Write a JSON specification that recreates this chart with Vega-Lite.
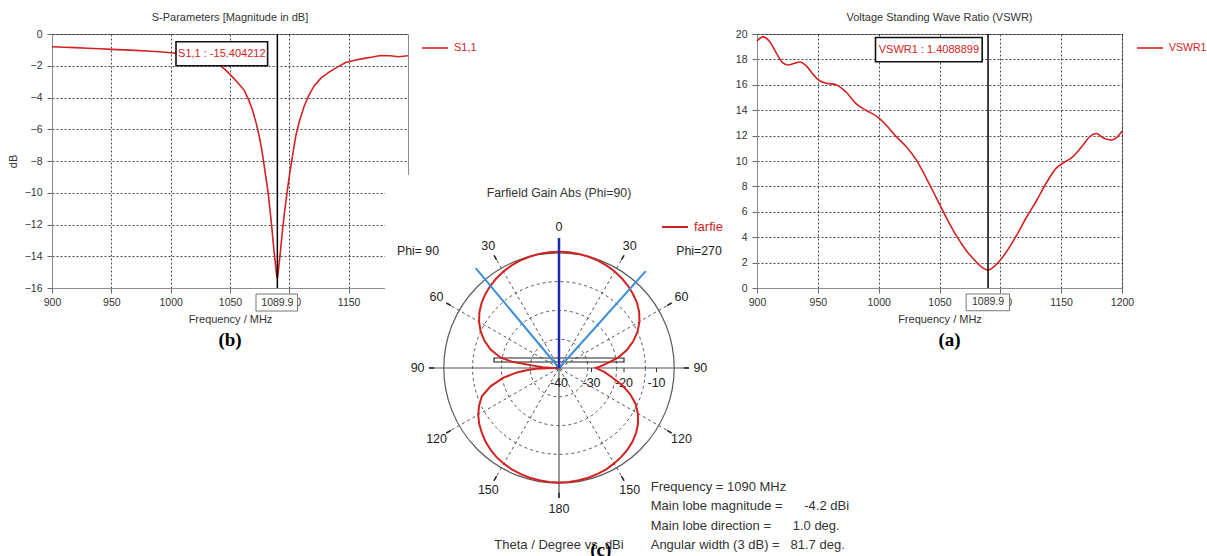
{
  "$schema": "https://vega.github.io/schema/vega-lite/v6.json",
  "background": "white",
  "padding": {"left": 6, "top": 11, "right": 0, "bottom": 0},
  "bounds": "flush",
  "spacing": 0,
  "config": {
    "font": "Liberation Sans",
    "view": {"stroke": "#8c8c8c", "strokeWidth": 1},
    "axis": {"labelFontSize": 10.5, "labelColor": "#333333", "titleFontSize": 11, "titleFontWeight": "normal", "titleColor": "#333333", "domainColor": "#8c8c8c", "tickColor": "#666666", "tickSize": 5, "gridColor": "#000000", "gridDash": [2, 2], "gridOpacity": 0.7, "labelPadding": 4, "labelFlush": false, "labelOverlap": false},
    "title": {"fontSize": 11, "fontWeight": "normal", "color": "#333333", "offset": 6, "anchor": "middle"},
    "legend": {"symbolType": "stroke", "symbolSize": 676, "symbolStrokeWidth": 1.6, "labelFontSize": 11, "labelColor": "#d42222", "padding": 0, "labelOffset": 5}
  },
  "datasets": {
    "panel": [{"id": 1}],
    "s11": [
      {"freq": 900, "dB": -0.8}, {"freq": 910, "dB": -0.83}, {"freq": 920, "dB": -0.86}, {"freq": 930, "dB": -0.9}, {"freq": 940, "dB": -0.93},
      {"freq": 950, "dB": -0.97}, {"freq": 960, "dB": -1.0}, {"freq": 970, "dB": -1.03}, {"freq": 980, "dB": -1.07}, {"freq": 990, "dB": -1.12},
      {"freq": 1000, "dB": -1.18}, {"freq": 1010, "dB": -1.25}, {"freq": 1020, "dB": -1.35}, {"freq": 1030, "dB": -1.52}, {"freq": 1036, "dB": -1.68},
      {"freq": 1041, "dB": -1.95}, {"freq": 1046, "dB": -2.25}, {"freq": 1052, "dB": -2.7}, {"freq": 1057, "dB": -3.1}, {"freq": 1062, "dB": -3.55},
      {"freq": 1066, "dB": -4.2}, {"freq": 1069, "dB": -4.8}, {"freq": 1072, "dB": -5.6}, {"freq": 1074.5, "dB": -6.4}, {"freq": 1077, "dB": -7.4},
      {"freq": 1079, "dB": -8.4}, {"freq": 1081, "dB": -9.4}, {"freq": 1082.5, "dB": -10.25}, {"freq": 1084, "dB": -11.3}, {"freq": 1085.5, "dB": -12.4},
      {"freq": 1087, "dB": -13.6}, {"freq": 1088.3, "dB": -14.5}, {"freq": 1089.4, "dB": -15.3}, {"freq": 1089.9, "dB": -15.404212}, {"freq": 1090.6, "dB": -15.0},
      {"freq": 1091.5, "dB": -14.4}, {"freq": 1093, "dB": -13.3}, {"freq": 1094.3, "dB": -12.3}, {"freq": 1096, "dB": -11.2}, {"freq": 1097.7, "dB": -10.2},
      {"freq": 1099.5, "dB": -9.2}, {"freq": 1101.3, "dB": -8.3}, {"freq": 1103.5, "dB": -7.3}, {"freq": 1105.5, "dB": -6.4}, {"freq": 1108.5, "dB": -5.5},
      {"freq": 1112.5, "dB": -4.55}, {"freq": 1116.5, "dB": -3.85}, {"freq": 1121, "dB": -3.25}, {"freq": 1127, "dB": -2.75}, {"freq": 1133.5, "dB": -2.4},
      {"freq": 1140, "dB": -2.1}, {"freq": 1147.5, "dB": -1.8}, {"freq": 1155, "dB": -1.65}, {"freq": 1162, "dB": -1.55}, {"freq": 1170, "dB": -1.45},
      {"freq": 1177, "dB": -1.35}, {"freq": 1185, "dB": -1.37}, {"freq": 1192, "dB": -1.43}, {"freq": 1200, "dB": -1.37}
    ],
    "s11marker": [{"freq": 1089.9, "dB": -15.404212, "label": "S1,1 : -15.404212", "flabel": "1089.9"}],
    "vswr": [
      {"freq": 900, "vswr": 19.45}, {"freq": 904.8, "vswr": 19.77}, {"freq": 910, "vswr": 19.45}, {"freq": 915.8, "vswr": 18.52}, {"freq": 921, "vswr": 17.74},
      {"freq": 925.3, "vswr": 17.56}, {"freq": 930.8, "vswr": 17.69}, {"freq": 935, "vswr": 17.8}, {"freq": 940.5, "vswr": 17.49}, {"freq": 946, "vswr": 16.83},
      {"freq": 951.4, "vswr": 16.32}, {"freq": 957, "vswr": 16.13}, {"freq": 965, "vswr": 16.01}, {"freq": 973.4, "vswr": 15.41}, {"freq": 981.6, "vswr": 14.5},
      {"freq": 989.8, "vswr": 13.98}, {"freq": 999.3, "vswr": 13.46}, {"freq": 1006.3, "vswr": 12.82}, {"freq": 1014.5, "vswr": 11.91}, {"freq": 1022.7, "vswr": 11.13},
      {"freq": 1030.9, "vswr": 10.09}, {"freq": 1039.1, "vswr": 8.66}, {"freq": 1047.4, "vswr": 7.1}, {"freq": 1055.6, "vswr": 5.55}, {"freq": 1063.8, "vswr": 4.12},
      {"freq": 1072, "vswr": 2.96}, {"freq": 1080.3, "vswr": 2.05}, {"freq": 1085, "vswr": 1.62}, {"freq": 1089.9, "vswr": 1.4088899}, {"freq": 1094, "vswr": 1.62},
      {"freq": 1096.7, "vswr": 1.85}, {"freq": 1104.9, "vswr": 2.83}, {"freq": 1113.2, "vswr": 4.12}, {"freq": 1121.4, "vswr": 5.55}, {"freq": 1129.6, "vswr": 6.85},
      {"freq": 1137.8, "vswr": 8.27}, {"freq": 1146, "vswr": 9.44}, {"freq": 1151.5, "vswr": 9.83}, {"freq": 1159.7, "vswr": 10.35}, {"freq": 1168, "vswr": 11.26},
      {"freq": 1173.4, "vswr": 11.91}, {"freq": 1178.9, "vswr": 12.16}, {"freq": 1184.4, "vswr": 11.83}, {"freq": 1191.3, "vswr": 11.65}, {"freq": 1195.4, "vswr": 11.83},
      {"freq": 1200, "vswr": 12.35}
    ],
    "vswrmarker": [{"freq": 1089.9, "vswr": 1.4088899, "label": "VSWR1 : 1.4088899", "flabel": "1089.9"}],
    "pattern": [
      {"theta": -180, "gain": -4.8}, {"theta": -175, "gain": -4.82}, {"theta": -170, "gain": -4.9}, {"theta": -165, "gain": -5.05}, {"theta": -160, "gain": -5.3},
      {"theta": -155, "gain": -5.6}, {"theta": -150, "gain": -6.0}, {"theta": -145, "gain": -6.5}, {"theta": -140, "gain": -7.2}, {"theta": -135, "gain": -8.0},
      {"theta": -130, "gain": -9.0}, {"theta": -125, "gain": -10.0}, {"theta": -120, "gain": -11.3}, {"theta": -115, "gain": -12.9}, {"theta": -110, "gain": -14.8},
      {"theta": -105, "gain": -18.2}, {"theta": -100, "gain": -22.5}, {"theta": -96, "gain": -27.0}, {"theta": -94, "gain": -30.0}, {"theta": -92, "gain": -33.0},
      {"theta": -90.5, "gain": -38.0}, {"theta": -90, "gain": -40.0}, {"theta": -89.5, "gain": -38.0}, {"theta": -87.5, "gain": -35.0}, {"theta": -85, "gain": -32.5},
      {"theta": -82.5, "gain": -25.5}, {"theta": -80, "gain": -21.8}, {"theta": -75, "gain": -18.2}, {"theta": -70, "gain": -15.6}, {"theta": -65, "gain": -13.4},
      {"theta": -60, "gain": -11.6}, {"theta": -55, "gain": -10.1}, {"theta": -50, "gain": -8.9}, {"theta": -45, "gain": -7.9}, {"theta": -40, "gain": -7.1},
      {"theta": -35, "gain": -6.35}, {"theta": -30, "gain": -5.75}, {"theta": -25, "gain": -5.25}, {"theta": -20, "gain": -4.85}, {"theta": -15, "gain": -4.55},
      {"theta": -10, "gain": -4.35}, {"theta": -5, "gain": -4.25}, {"theta": 0, "gain": -4.22}, {"theta": 1, "gain": -4.2}, {"theta": 5, "gain": -4.25},
      {"theta": 10, "gain": -4.35}, {"theta": 15, "gain": -4.55}, {"theta": 20, "gain": -4.85}, {"theta": 25, "gain": -5.25}, {"theta": 30, "gain": -5.7},
      {"theta": 35, "gain": -6.3}, {"theta": 40, "gain": -7.0}, {"theta": 45, "gain": -7.8}, {"theta": 50, "gain": -8.7}, {"theta": 55, "gain": -9.9},
      {"theta": 60, "gain": -11.4}, {"theta": 65, "gain": -13.3}, {"theta": 70, "gain": -15.6}, {"theta": 75, "gain": -18.3}, {"theta": 80, "gain": -21.5},
      {"theta": 85, "gain": -25.5}, {"theta": 88, "gain": -27.5}, {"theta": 90, "gain": -28.7}, {"theta": 92, "gain": -27.8}, {"theta": 95, "gain": -26.0},
      {"theta": 100, "gain": -23.5}, {"theta": 105, "gain": -20.0}, {"theta": 110, "gain": -16.8}, {"theta": 115, "gain": -14.0}, {"theta": 120, "gain": -12.0},
      {"theta": 125, "gain": -10.3}, {"theta": 130, "gain": -9.0}, {"theta": 135, "gain": -8.0}, {"theta": 140, "gain": -7.2}, {"theta": 145, "gain": -6.6},
      {"theta": 150, "gain": -6.1}, {"theta": 155, "gain": -5.6}, {"theta": 160, "gain": -5.3}, {"theta": 165, "gain": -5.05}, {"theta": 170, "gain": -4.9},
      {"theta": 175, "gain": -4.82}, {"theta": 180, "gain": -4.8}
    ],
    "rings": [{"dB": -30}, {"dB": -20}, {"dB": -10}, {"dB": 0}],
    "ringLabels": [{"label": "-40", "r": 0}, {"label": "-30", "r": 10}, {"label": "-20", "r": 20}, {"label": "-10", "r": 30}],
    "spokes": [
      {"angle": 0, "style": "axis"}, {"angle": 90, "style": "axis"}, {"angle": 180, "style": "axis"}, {"angle": -90, "style": "axis"},
      {"angle": 30, "style": "grid"}, {"angle": 60, "style": "grid"}, {"angle": 120, "style": "grid"}, {"angle": 150, "style": "grid"},
      {"angle": -30, "style": "grid"}, {"angle": -60, "style": "grid"}, {"angle": -120, "style": "grid"}, {"angle": -150, "style": "grid"}
    ],
    "lobes": [{"kind": "3dB", "angle": -39.85}, {"kind": "3dB", "angle": 41.85}, {"kind": "main", "angle": 0}],
    "angleLabels": [
      {"angle": 0, "label": "0"}, {"angle": 30, "label": "30"}, {"angle": 60, "label": "60"}, {"angle": 90, "label": "90"}, {"angle": 120, "label": "120"},
      {"angle": 150, "label": "150"}, {"angle": 180, "label": "180"}, {"angle": -30, "label": "30"}, {"angle": -60, "label": "60"}, {"angle": -90, "label": "90"},
      {"angle": -120, "label": "120"}, {"angle": -150, "label": "150"}
    ]
  },
  "resolve": {"scale": {"x": "independent", "y": "independent", "color": "independent", "size": "independent"}, "legend": {"color": "independent"}},
  "hconcat": [
    {
      "width": 356,
      "height": 254,
      "title": "S-Parameters [Magnitude in dB]",
      "layer": [
        {
          "data": {"name": "s11"},
          "mark": {"type": "line", "strokeWidth": 1.6},
          "encoding": {
            "x": {"field": "freq", "type": "quantitative", "scale": {"domain": [900, 1200], "nice": false, "zero": false},
                  "axis": {"title": "Frequency / MHz", "values": [900, 950, 1000, 1050, 1100, 1150], "titlePadding": 6, "format": "d"}},
            "y": {"field": "dB", "type": "quantitative", "scale": {"domain": [-16, 0], "nice": false},
                  "axis": {"title": "dB", "values": [-16, -14, -12, -10, -8, -6, -4, -2, 0], "titlePadding": 6, "labelPadding": 5, "format": "d"}},
            "color": {"datum": "S1,1", "type": "nominal", "scale": {"range": ["#d42222"]}, "legend": {"title": null, "orient": "right", "offset": 13}}
          }
        },
        {
          "data": {"name": "s11marker"},
          "mark": {"type": "rule", "color": "#000000", "strokeWidth": 1.5},
          "encoding": {
            "x": {"field": "freq", "type": "quantitative", "axis": {"title": "Frequency / MHz", "values": [900, 950, 1000, 1050, 1100, 1150], "titlePadding": 6, "format": "d"}},
            "y": {"datum": 0, "type": "quantitative", "axis": {"title": "dB", "values": [-16, -14, -12, -10, -8, -6, -4, -2, 0], "titlePadding": 6, "labelPadding": 5, "format": "d"}},
            "y2": {"datum": -16}
          }
        },
        {
          "data": {"name": "s11marker"},
          "mark": {"type": "rect", "fill": "white", "stroke": "#111111", "strokeWidth": 1.6},
          "encoding": {
            "x": {"datum": 1004.5, "type": "quantitative", "axis": {"title": "Frequency / MHz", "values": [900, 950, 1000, 1050, 1100, 1150], "titlePadding": 6, "format": "d"}},
            "x2": {"datum": 1081.7},
            "y": {"datum": -0.485, "type": "quantitative", "axis": {"title": "dB", "values": [-16, -14, -12, -10, -8, -6, -4, -2, 0], "titlePadding": 6, "labelPadding": 5, "format": "d"}},
            "y2": {"datum": -2.0}
          }
        },
        {
          "data": {"name": "s11marker"},
          "mark": {"type": "text", "color": "#d42222", "fontSize": 11, "align": "center", "baseline": "middle"},
          "encoding": {
            "x": {"datum": 1043.1, "type": "quantitative", "axis": {"title": "Frequency / MHz", "values": [900, 950, 1000, 1050, 1100, 1150], "titlePadding": 6, "format": "d"}},
            "y": {"datum": -1.24, "type": "quantitative", "axis": {"title": "dB", "values": [-16, -14, -12, -10, -8, -6, -4, -2, 0], "titlePadding": 6, "labelPadding": 5, "format": "d"}},
            "text": {"field": "label"}
          }
        },
        {
          "data": {"name": "s11marker"},
          "mark": {"type": "rect", "fill": "white", "stroke": "#777777", "strokeWidth": 1},
          "encoding": {
            "x": {"datum": 1071.9, "type": "quantitative", "axis": {"title": "Frequency / MHz", "values": [900, 950, 1000, 1050, 1100, 1150], "titlePadding": 6, "format": "d"}},
            "x2": {"datum": 1106.9},
            "y": {"datum": -16.38, "type": "quantitative", "axis": {"title": "dB", "values": [-16, -14, -12, -10, -8, -6, -4, -2, 0], "titlePadding": 6, "labelPadding": 5, "format": "d"}},
            "y2": {"datum": -17.45}
          }
        },
        {
          "data": {"name": "s11marker"},
          "mark": {"type": "text", "color": "#333333", "fontSize": 10.5, "align": "center", "baseline": "middle"},
          "encoding": {
            "x": {"field": "freq", "type": "quantitative", "axis": {"title": "Frequency / MHz", "values": [900, 950, 1000, 1050, 1100, 1150], "titlePadding": 6, "format": "d"}},
            "y": {"datum": -16.92, "type": "quantitative", "axis": {"title": "dB", "values": [-16, -14, -12, -10, -8, -6, -4, -2, 0], "titlePadding": 6, "labelPadding": 5, "format": "d"}},
            "text": {"field": "flabel"}
          }
        },
        {
          "data": {"name": "panel"},
          "mark": {"type": "text", "text": "(b)", "font": "Liberation Serif", "fontWeight": "bold", "fontSize": 19, "color": "#000000", "align": "center", "baseline": "middle"},
          "encoding": {
            "x": {"datum": 1050, "type": "quantitative", "axis": {"title": "Frequency / MHz", "values": [900, 950, 1000, 1050, 1100, 1150], "titlePadding": 6, "format": "d"}},
            "y": {"datum": -19.28, "type": "quantitative", "axis": {"title": "dB", "values": [-16, -14, -12, -10, -8, -6, -4, -2, 0], "titlePadding": 6, "labelPadding": 5, "format": "d"}}
          }
        }
      ]
    },
    {
      "width": 348.5,
      "height": 518,
      "view": {"stroke": null},
      "layer": [
        {
          "data": {"name": "panel"},
          "mark": {"type": "rect", "fill": "white", "strokeWidth": 0},
          "encoding": {
            "x": {"datum": -53.54, "type": "quantitative", "scale": {"domain": [-46.46, 60.77], "nice": false, "zero": false}, "axis": null},
            "x2": {"datum": 50.46},
            "y": {"datum": 59.38, "type": "quantitative", "scale": {"domain": [-56.62, 102.77], "nice": false, "zero": false}, "axis": null},
            "y2": {"datum": -60}
          }
        },
        {
          "data": {"name": "rings"},
          "transform": [{"filter": "datum.dB < 0"}, {"calculate": "datum.dB + 40", "as": "r"}],
          "mark": {"type": "point", "shape": "circle", "filled": false, "stroke": "#555555", "strokeWidth": 1, "strokeDash": [3, 3], "opacity": 1},
          "encoding": {
            "x": {"datum": 0, "type": "quantitative", "axis": null},
            "y": {"datum": 0, "type": "quantitative", "axis": null},
            "size": {"field": "r", "type": "quantitative", "scale": {"type": "pow", "exponent": 2, "domain": [0, 40], "range": [0, 53093]}, "legend": null}
          }
        },
        {
          "data": {"name": "rings"},
          "transform": [{"filter": "datum.dB == 0"}, {"calculate": "datum.dB + 40", "as": "r"}],
          "mark": {"type": "point", "shape": "circle", "filled": false, "stroke": "#5a5a5a", "strokeWidth": 1.2, "opacity": 1},
          "encoding": {
            "x": {"datum": 0, "type": "quantitative", "axis": null},
            "y": {"datum": 0, "type": "quantitative", "axis": null},
            "size": {"field": "r", "type": "quantitative", "legend": null}
          }
        },
        {
          "data": {"name": "spokes"},
          "transform": [{"filter": "datum.style == 'grid'"}, {"calculate": "40 * sin(datum.angle * PI / 180)", "as": "ex"}, {"calculate": "40 * cos(datum.angle * PI / 180)", "as": "ey"}],
          "mark": {"type": "rule", "color": "#555555", "strokeWidth": 1, "strokeDash": [3, 3]},
          "encoding": {
            "x": {"field": "ex", "type": "quantitative", "axis": null},
            "y": {"field": "ey", "type": "quantitative", "axis": null},
            "x2": {"datum": 0},
            "y2": {"datum": 0}
          }
        },
        {
          "data": {"name": "spokes"},
          "transform": [{"filter": "datum.style == 'axis'"}, {"calculate": "40 * sin(datum.angle * PI / 180)", "as": "ex"}, {"calculate": "40 * cos(datum.angle * PI / 180)", "as": "ey"}],
          "mark": {"type": "rule", "color": "#555555", "strokeWidth": 1.2},
          "encoding": {
            "x": {"field": "ex", "type": "quantitative", "axis": null},
            "y": {"field": "ey", "type": "quantitative", "axis": null},
            "x2": {"datum": 0},
            "y2": {"datum": 0}
          }
        },
        {
          "data": {"name": "spokes"},
          "transform": [
            {"calculate": "38.4 * sin(datum.angle * PI / 180)", "as": "tx1"}, {"calculate": "38.4 * cos(datum.angle * PI / 180)", "as": "ty1"},
            {"calculate": "40 * sin(datum.angle * PI / 180)", "as": "tx2"}, {"calculate": "40 * cos(datum.angle * PI / 180)", "as": "ty2"}
          ],
          "mark": {"type": "rule", "color": "#222222", "strokeWidth": 1.5},
          "encoding": {
            "x": {"field": "tx1", "type": "quantitative", "axis": null},
            "y": {"field": "ty1", "type": "quantitative", "axis": null},
            "x2": {"field": "tx2"},
            "y2": {"field": "ty2"}
          }
        },
        {
          "data": {"name": "ringLabels"},
          "transform": [{"filter": "datum.r > 0"}],
          "mark": {"type": "rule", "color": "#333333", "strokeWidth": 1},
          "encoding": {
            "x": {"field": "r", "type": "quantitative", "axis": null},
            "y": {"datum": 0, "type": "quantitative", "axis": null},
            "y2": {"datum": -1.3}
          }
        },
        {
          "data": {"name": "ringLabels"},
          "mark": {"type": "text", "fontSize": 12.5, "color": "#222222", "align": "center", "baseline": "middle"},
          "encoding": {
            "x": {"field": "r", "type": "quantitative", "axis": null},
            "y": {"datum": -4.5, "type": "quantitative", "axis": null},
            "text": {"field": "label"}
          }
        },
        {
          "data": {"name": "panel"},
          "mark": {"type": "rect", "fillOpacity": 0, "fill": "white", "stroke": "#222222", "strokeWidth": 1.2},
          "encoding": {
            "x": {"datum": -20, "type": "quantitative", "axis": null},
            "x2": {"datum": 20},
            "y": {"datum": 3.08, "type": "quantitative", "axis": null},
            "y2": {"datum": 1.85}
          }
        },
        {
          "data": {"name": "pattern"},
          "transform": [{"calculate": "(datum.gain + 40) * sin(datum.theta * PI / 180)", "as": "px"}, {"calculate": "(datum.gain + 40) * cos(datum.theta * PI / 180)", "as": "py"}],
          "mark": {"type": "line", "strokeWidth": 2},
          "encoding": {
            "x": {"field": "px", "type": "quantitative", "axis": null},
            "y": {"field": "py", "type": "quantitative", "axis": null},
            "order": {"field": "theta", "type": "quantitative"},
            "color": {"datum": "farfie", "type": "nominal", "scale": {"range": ["#d42222"]},
                      "legend": {"title": null, "orient": "none", "legendX": 253, "legendY": 179, "labelFontSize": 13, "symbolStrokeWidth": 2}}
          }
        },
        {
          "data": {"name": "lobes"},
          "transform": [{"filter": "datum.kind == '3dB'"}, {"calculate": "40 * sin(datum.angle * PI / 180)", "as": "ex"}, {"calculate": "40 * cos(datum.angle * PI / 180)", "as": "ey"}],
          "mark": {"type": "rule", "color": "#3a8fd8", "strokeWidth": 2},
          "encoding": {
            "x": {"field": "ex", "type": "quantitative", "axis": null},
            "y": {"field": "ey", "type": "quantitative", "axis": null},
            "x2": {"datum": 0},
            "y2": {"datum": 0}
          }
        },
        {
          "data": {"name": "lobes"},
          "transform": [{"filter": "datum.kind == 'main'"}, {"calculate": "40 * sin(datum.angle * PI / 180)", "as": "ex"}, {"calculate": "40 * cos(datum.angle * PI / 180)", "as": "ey"}],
          "mark": {"type": "rule", "color": "#1f2aa8", "strokeWidth": 2.5},
          "encoding": {
            "x": {"field": "ex", "type": "quantitative", "axis": null},
            "y": {"field": "ey", "type": "quantitative", "axis": null},
            "x2": {"datum": 0},
            "y2": {"datum": 0}
          }
        },
        {
          "data": {"name": "angleLabels"},
          "transform": [{"calculate": "43.5 * sin(datum.angle * PI / 180)", "as": "lx"}, {"calculate": "43.5 * cos(datum.angle * PI / 180)", "as": "ly"}],
          "mark": {"type": "text", "fontSize": 12.5, "color": "#222222", "align": "center", "baseline": "middle"},
          "encoding": {
            "x": {"field": "lx", "type": "quantitative", "axis": null},
            "y": {"field": "ly", "type": "quantitative", "axis": null},
            "text": {"field": "label"}
          }
        },
        {
          "data": {"name": "panel"},
          "mark": {"type": "text", "text": "Farfield Gain Abs (Phi=90)", "fontSize": 12.3, "color": "#333333", "align": "center", "baseline": "middle"},
          "encoding": {"x": {"datum": 0, "type": "quantitative", "axis": null}, "y": {"datum": 53.94, "type": "quantitative", "axis": null}}
        },
        {
          "data": {"name": "panel"},
          "mark": {"type": "text", "text": "Phi= 90", "fontSize": 12.3, "color": "#222222", "align": "center", "baseline": "middle"},
          "encoding": {"x": {"datum": -43.38, "type": "quantitative", "axis": null}, "y": {"datum": 36.0, "type": "quantitative", "axis": null}}
        },
        {
          "data": {"name": "panel"},
          "mark": {"type": "text", "text": "Phi=270", "fontSize": 12.3, "color": "#222222", "align": "center", "baseline": "middle"},
          "encoding": {"x": {"datum": 43.08, "type": "quantitative", "axis": null}, "y": {"datum": 36.0, "type": "quantitative", "axis": null}}
        },
        {
          "data": {"name": "panel"},
          "mark": {"type": "text", "text": "Theta / Degree vs. dBi", "fontSize": 13, "color": "#333333", "align": "center", "baseline": "middle"},
          "encoding": {"x": {"datum": 0, "type": "quantitative", "axis": null}, "y": {"datum": -54.5, "type": "quantitative", "axis": null}}
        },
        {
          "data": {"name": "panel"},
          "mark": {"type": "text", "text": ["Frequency = 1090 MHz", "Main lobe magnitude =\u00a0\u00a0\u00a0\u00a0\u00a0\u00a0-4.2 dBi", "Main lobe direction =\u00a0\u00a0\u00a0\u00a0\u00a0\u00a01.0 deg.", "Angular width (3 dB) =\u00a0\u00a0\u00a081.7 deg."], "fontSize": 13, "lineHeight": 19.5, "color": "#333333", "align": "left", "baseline": "middle"},
          "encoding": {"x": {"datum": 28.22, "type": "quantitative", "axis": null}, "y": {"datum": -36.52, "type": "quantitative", "axis": null}}
        },
        {
          "data": {"name": "panel"},
          "mark": {"type": "text", "text": "(c)", "font": "Liberation Serif", "fontWeight": "bold", "fontSize": 19, "color": "#000000", "align": "center", "baseline": "middle"},
          "encoding": {"x": {"datum": 12.83, "type": "quantitative", "axis": null}, "y": {"datum": -56.0, "type": "quantitative", "axis": null}}
        }
      ]
    },
    {
      "width": 365,
      "height": 254,
      "title": "Voltage Standing Wave Ratio (VSWR)",
      "layer": [
        {
          "data": {"name": "vswr"},
          "mark": {"type": "line", "strokeWidth": 1.6, "interpolate": "monotone"},
          "encoding": {
            "x": {"field": "freq", "type": "quantitative", "scale": {"domain": [900, 1200], "nice": false, "zero": false},
                  "axis": {"title": "Frequency / MHz", "values": [900, 950, 1000, 1050, 1100, 1150, 1200], "titlePadding": 6, "format": "d"}},
            "y": {"field": "vswr", "type": "quantitative", "scale": {"domain": [0, 20], "nice": false},
                  "axis": {"title": null, "values": [0, 2, 4, 6, 8, 10, 12, 14, 16, 18, 20], "labelPadding": 5, "format": "d"}},
            "color": {"datum": "VSWR1", "type": "nominal", "scale": {"range": ["#d42222"]}, "legend": {"title": null, "orient": "right", "offset": 14, "labelFontSize": 10.5}}
          }
        },
        {
          "data": {"name": "vswrmarker"},
          "mark": {"type": "rule", "color": "#000000", "strokeWidth": 1.5},
          "encoding": {
            "x": {"field": "freq", "type": "quantitative", "axis": {"title": "Frequency / MHz", "values": [900, 950, 1000, 1050, 1100, 1150, 1200], "titlePadding": 6, "format": "d"}},
            "y": {"datum": 0, "type": "quantitative", "axis": {"title": null, "values": [0, 2, 4, 6, 8, 10, 12, 14, 16, 18, 20], "labelPadding": 5, "format": "d"}},
            "y2": {"datum": 20}
          }
        },
        {
          "data": {"name": "vswrmarker"},
          "mark": {"type": "rect", "fill": "white", "stroke": "#111111", "strokeWidth": 1.6},
          "encoding": {
            "x": {"datum": 997.4, "type": "quantitative", "axis": {"title": "Frequency / MHz", "values": [900, 950, 1000, 1050, 1100, 1150, 1200], "titlePadding": 6, "format": "d"}},
            "x2": {"datum": 1085.1},
            "y": {"datum": 19.72, "type": "quantitative", "axis": {"title": null, "values": [0, 2, 4, 6, 8, 10, 12, 14, 16, 18, 20], "labelPadding": 5, "format": "d"}},
            "y2": {"datum": 17.82}
          }
        },
        {
          "data": {"name": "vswrmarker"},
          "mark": {"type": "text", "color": "#d42222", "fontSize": 11, "align": "center", "baseline": "middle"},
          "encoding": {
            "x": {"datum": 1041.25, "type": "quantitative", "axis": {"title": "Frequency / MHz", "values": [900, 950, 1000, 1050, 1100, 1150, 1200], "titlePadding": 6, "format": "d"}},
            "y": {"datum": 18.77, "type": "quantitative", "axis": {"title": null, "values": [0, 2, 4, 6, 8, 10, 12, 14, 16, 18, 20], "labelPadding": 5, "format": "d"}},
            "text": {"field": "label"}
          }
        },
        {
          "data": {"name": "vswrmarker"},
          "mark": {"type": "rect", "fill": "white", "stroke": "#777777", "strokeWidth": 1},
          "encoding": {
            "x": {"datum": 1071.9, "type": "quantitative", "axis": {"title": "Frequency / MHz", "values": [900, 950, 1000, 1050, 1100, 1150, 1200], "titlePadding": 6, "format": "d"}},
            "x2": {"datum": 1107.5},
            "y": {"datum": -0.47, "type": "quantitative", "axis": {"title": null, "values": [0, 2, 4, 6, 8, 10, 12, 14, 16, 18, 20], "labelPadding": 5, "format": "d"}},
            "y2": {"datum": -1.79}
          }
        },
        {
          "data": {"name": "vswrmarker"},
          "mark": {"type": "text", "color": "#333333", "fontSize": 10.5, "align": "center", "baseline": "middle"},
          "encoding": {
            "x": {"field": "freq", "type": "quantitative", "axis": {"title": "Frequency / MHz", "values": [900, 950, 1000, 1050, 1100, 1150, 1200], "titlePadding": 6, "format": "d"}},
            "y": {"datum": -1.13, "type": "quantitative", "axis": {"title": null, "values": [0, 2, 4, 6, 8, 10, 12, 14, 16, 18, 20], "labelPadding": 5, "format": "d"}},
            "text": {"field": "flabel"}
          }
        },
        {
          "data": {"name": "panel"},
          "mark": {"type": "text", "text": "(a)", "font": "Liberation Serif", "fontWeight": "bold", "fontSize": 19, "color": "#000000", "align": "center", "baseline": "middle"},
          "encoding": {
            "x": {"datum": 1058.2, "type": "quantitative", "axis": {"title": "Frequency / MHz", "values": [900, 950, 1000, 1050, 1100, 1150, 1200], "titlePadding": 6, "format": "d"}},
            "y": {"datum": -4.09, "type": "quantitative", "axis": {"title": null, "values": [0, 2, 4, 6, 8, 10, 12, 14, 16, 18, 20], "labelPadding": 5, "format": "d"}}
          }
        }
      ]
    }
  ]
}
